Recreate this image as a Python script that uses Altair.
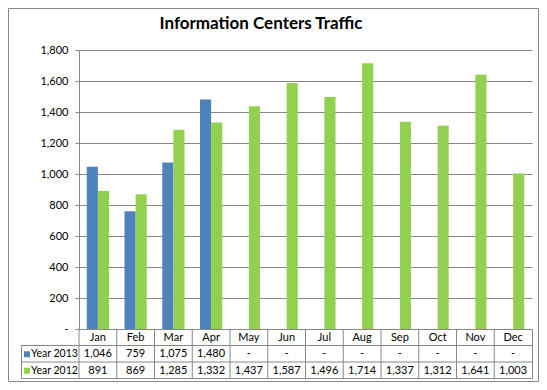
import altair as alt
import pandas as pd

months = ["Jan", "Feb", "Mar", "Apr", "May", "Jun", "Jul", "Aug", "Sep", "Oct", "Nov", "Dec"]
series_names = ["Year 2013", "Year 2012"]
y2013 = [1046, 759, 1075, 1480, None, None, None, None, None, None, None, None]
y2012 = [891, 869, 1285, 1332, 1437, 1587, 1496, 1714, 1337, 1312, 1641, 1003]
y_ticks = [0, 200, 400, 600, 800, 1000, 1200, 1400, 1600, 1800]
colors = ["#4F81BD", "#92D050"]
title_text = "Information Centers Traffic"

rows = []
for s, vals in zip(series_names, [y2013, y2012]):
    for m, v in zip(months, vals):
        rows.append({"month": m, "series": s, "value": v,
                     "label": "-" if v is None else f"{v:,}"})
df = pd.DataFrame(rows)
mdf = pd.DataFrame({"month": months})

W, H = 453, 279
ROW = 16.5
FONT = "Lato"
GRID = "#868686"
TOTAL_H = 374
PAD_TOP = 42

xs = alt.Scale(domain=months, paddingInner=0, paddingOuter=0)

def X(**kw):
    return alt.X("month:N", scale=xs, axis=None, sort=months, **kw)

bars = alt.Chart(df).transform_filter("isValid(datum.value)").mark_bar().encode(
    x=X(),
    xOffset=alt.XOffset("series:N", scale=alt.Scale(domain=series_names, paddingInner=0, paddingOuter=0.7)),
    y=alt.Y("value:Q", scale=alt.Scale(domain=[0, 1800], nice=False),
            axis=alt.Axis(values=y_ticks, title=None, grid=True, gridColor=GRID,
                          domainColor=GRID, tickColor=GRID, tickSize=4,
                          labelFont=FONT, labelFontSize=11, labelColor="#000000",
                          labelPadding=7,
                          labelExpr="datum.value == 0 ? '-' : format(datum.value, ',')")),
    color=alt.Color("series:N", scale=alt.Scale(domain=series_names, range=colors), legend=None),
)

header = alt.Chart(mdf).mark_text(font=FONT, fontSize=11, color="#000000").encode(
    x=X(), y=alt.value(H + ROW / 2 + 0.5), text="month:N")

def row_text(sname, yc):
    return alt.Chart(df).transform_filter(alt.datum.series == sname).mark_text(
        font=FONT, fontSize=11, color="#000000").encode(
        x=X(), y=alt.value(yc), text="label:N")

r13 = row_text("Year 2013", H + ROW * 1.5 + 0.5)
r12 = row_text("Year 2012", H + ROW * 2.5 + 0.5)

leg_df = pd.DataFrame({"series": series_names})

def legend_row(sname, col, yc):
    d = leg_df[leg_df.series == sname]
    sq = alt.Chart(d).mark_square(size=36, color=col, opacity=1).encode(
        x=alt.value(-52), y=alt.value(yc))
    tx = alt.Chart(d).mark_text(font=FONT, fontSize=10.5, color="#000000", align="left").encode(
        x=alt.value(-48), y=alt.value(yc), text="series:N")
    return sq + tx

leg13 = legend_row("Year 2013", colors[0], H + ROW * 1.5 + 0.5)
leg12 = legend_row("Year 2012", colors[1], H + ROW * 2.5 + 0.5)

TB = H + ROW * 3
vlines = alt.Chart(mdf).mark_rule(color=GRID, strokeWidth=1).encode(
    x=X(bandPosition=0), y=alt.value(H), y2=alt.value(TB))
right_line = alt.Chart(mdf.head(1)).mark_rule(color=GRID).encode(
    x=alt.value(W + 0.5), y=alt.value(H), y2=alt.value(TB))
left_line = alt.Chart(mdf.head(1)).mark_rule(color=GRID).encode(
    x=alt.value(-57.5), y=alt.value(H + ROW), y2=alt.value(TB))

hlines = []
for k in [1, 2, 3]:
    hlines.append(alt.Chart(mdf.head(1)).mark_rule(color=GRID).encode(
        x=alt.value(-57.5), x2=alt.value(W + 0.5), y=alt.value(H + ROW * k)))

border = alt.Chart(mdf.head(1)).mark_rect(fill=None, stroke=GRID, strokeWidth=1).encode(
    x=alt.value(-70.5), x2=alt.value(459.5),
    y=alt.value(-PAD_TOP + 0.5), y2=alt.value(TOTAL_H - PAD_TOP - 0.5))

title = alt.Chart(pd.DataFrame({"t": [title_text]})).mark_text(
    font=FONT, fontSize=17, fontWeight="bold", color="#000000").encode(
    x=alt.value(182), y=alt.value(-26), text="t:N")

chart = alt.layer(
    border, bars, vlines, right_line, left_line, *hlines,
    header, r13, r12, leg13, leg12, title
).properties(
    width=W, height=H,
    autosize=alt.AutoSizeParams(type="none"),
    padding={"left": 71, "top": PAD_TOP, "right": 7, "bottom": TOTAL_H - PAD_TOP - H},
    background="white",
).configure_view(stroke=None)

chart.save("out.html", embed_options={"renderer": "svg", "actions": False})
